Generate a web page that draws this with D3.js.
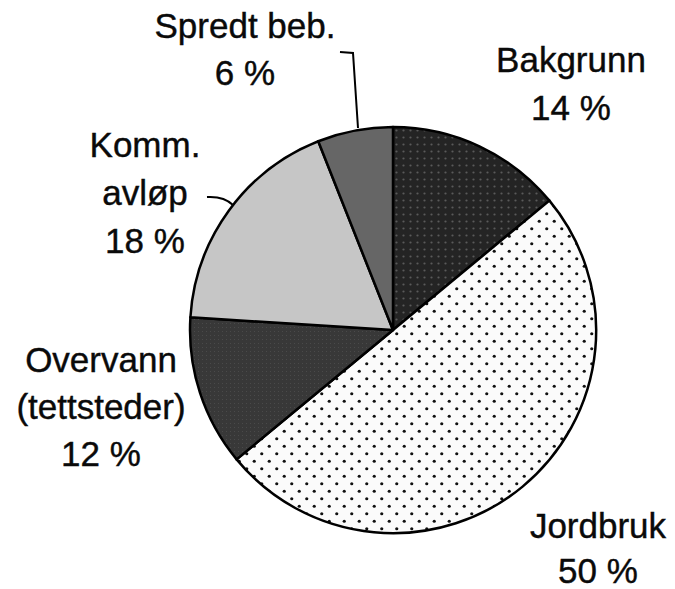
<!DOCTYPE html>
<html>
<head>
<meta charset="utf-8">
<script src="https://cdn.jsdelivr.net/npm/d3@7"></script>
<style>
  body { margin: 0; background: #fff; }
  svg { display: block; }
  text { font-family: "Liberation Sans", Arial, sans-serif; fill: #0a0a0a; stroke: #0a0a0a; stroke-width: 0.4; }
</style>
</head>
<body>
<div id="chart"></div>
<script>
// ___ DATA ___
const categories = ["Bakgrunn", "Jordbruk", "Overvann", "Komm. avløp", "Spredt beb."]
const values = [14, 50, 12, 18, 6]
const labelLines = [
    ["Bakgrunn", "14 %"],
    ["Jordbruk", "50 %"],
    ["Overvann", "(tettsteder)", "12 %"],
    ["Komm.", "avløp", "18 %"],
    ["Spredt beb.", "6 %"]
]

const W = 675, H = 589
const cx = 393, cy = 330, R = 203

const svg = d3.select('#chart').append('svg')
    .attr('width', W)
    .attr('height', H)

// ___ PATTERNS ___
const defs = svg.append('defs')

const dots = defs.append('pattern')
    .attr('id', 'dots')
    .attr('patternUnits', 'userSpaceOnUse')
    .attr('width', 15)
    .attr('height', 15)
dots.append('rect').attr('width', 15).attr('height', 15).attr('fill', '#fbfbfb')
dots.append('circle').attr('cx', 3.75).attr('cy', 3.75).attr('r', 1.6).attr('fill', '#111')
dots.append('circle').attr('cx', 11.25).attr('cy', 11.25).attr('r', 1.6).attr('fill', '#111')

const grid = defs.append('pattern')
    .attr('id', 'grid')
    .attr('patternUnits', 'userSpaceOnUse')
    .attr('width', 7)
    .attr('height', 7)
grid.append('rect').attr('width', 7).attr('height', 7).attr('fill', '#242424')
grid.append('circle').attr('cx', 3.5).attr('cy', 3.5).attr('r', 1.1).attr('fill', '#5a5a5a')

const fine = defs.append('pattern')
    .attr('id', 'fine')
    .attr('patternUnits', 'userSpaceOnUse')
    .attr('width', 4)
    .attr('height', 4)
fine.append('rect').attr('width', 4).attr('height', 4).attr('fill', '#383838')
fine.append('rect').attr('x', 1).attr('y', 1).attr('width', 1).attr('height', 1).attr('fill', '#4a4a4a')

const fills = ['url(#grid)', 'url(#dots)', 'url(#fine)', '#c6c6c6', '#666666']

// ___ PIE ___
const pie = d3.pie().sort(null).value(d => d)
const arc = d3.arc().innerRadius(0).outerRadius(R)

const g = svg.append('g').attr('transform', `translate(${cx},${cy})`)

g.selectAll('path')
    .data(pie(values))
    .join('path')
    .attr('d', arc)
    .attr('fill', (d, i) => fills[i])
    .attr('stroke', '#000')
    .attr('stroke-width', 2.5)
    .attr('stroke-linejoin', 'round')

// ___ LABELS ___
const labelPos = [
    {x: 571, y: 72, dy: 48},
    {x: 598, y: 538, dy: 45},
    {x: 101, y: 372, dy: 47},
    {x: 145, y: 157, dy: 48},
    {x: 245, y: 38, dy: 47}
]

labelLines.forEach((lines, i) => {
    const p = labelPos[i]
    const t = svg.append('text')
        .attr('text-anchor', 'middle')
        .attr('font-size', 35)
    lines.forEach((line, j) => {
        t.append('tspan')
            .attr('x', p.x)
            .attr('y', p.y + j * p.dy)
            .text(line)
    })
})

// ___ LEADER LINES ___
svg.append('path')
    .attr('d', 'M340,52 L353,53 L358,128')
    .attr('fill', 'none')
    .attr('stroke', '#000')
    .attr('stroke-width', 2)

svg.append('path')
    .attr('d', 'M207,197 Q224,196 233,205')
    .attr('fill', 'none')
    .attr('stroke', '#000')
    .attr('stroke-width', 2)
</script>
</body>
</html>
